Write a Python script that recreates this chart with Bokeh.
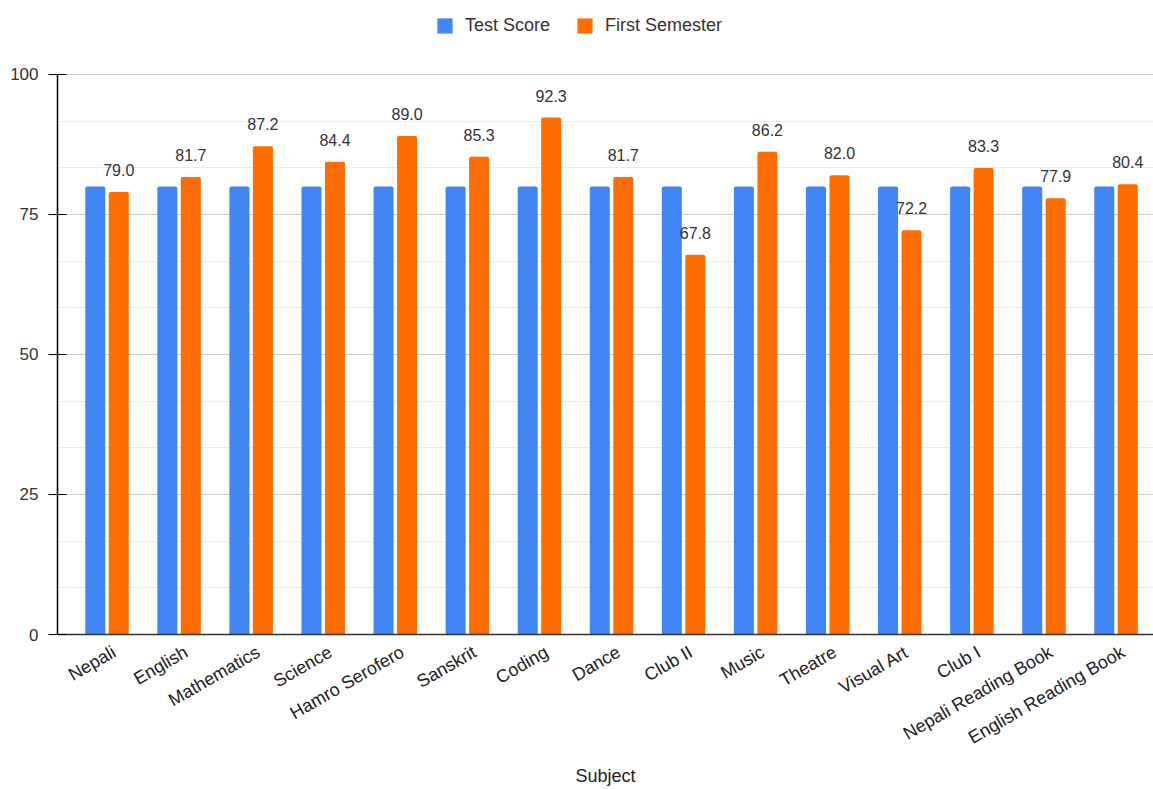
import math
from bokeh.plotting import figure
from bokeh.models import (ColumnDataSource, Range1d, FixedTicker, Legend, LegendItem)
from bokeh.transform import dodge
from bokeh.core.properties import value
from bokeh.embed import file_html
from bokeh.resources import INLINE

categories = ["Nepali", "English", "Mathematics", "Science", "Hamro Serofero",
              "Sanskrit", "Coding", "Dance", "Club II", "Music", "Theatre",
              "Visual Art", "Club I", "Nepali Reading Book", "English Reading Book"]
test_score = [80, 80, 80, 80, 80, 80, 80, 80, 80, 80, 80, 80, 80, 80, 80]
first_semester = [79.0, 81.7, 87.2, 84.4, 89.0, 85.3, 92.3, 81.7, 67.8, 86.2,
                  82.0, 72.2, 83.3, 77.9, 80.4]
y_ticks = [0, 25, 50, 75, 100]
series_names = ["Test Score", "First Semester"]

BLUE = "#4285F4"
ORANGE = "#FF6D01"
FONT = "Liberation Sans"

src = ColumnDataSource(dict(
    x=list(range(len(categories))),
    test=test_score,
    sem=first_semester,
    lab=["%.1f" % v for v in first_semester],
))

p = figure(width=1153, height=789, output_backend="svg", toolbar_location=None,
           x_range=Range1d(-0.687, 14.52), y_range=Range1d(0, 113.21),
           min_border_left=57, min_border_right=0, min_border_top=0,
           min_border_bottom=155)
p.outline_line_color = None
p.background_fill_color = "white"

r1 = p.vbar(x=dodge("x", -0.163, range=p.x_range), top="test", width=0.278,
            source=src, fill_color=BLUE, line_color=None,
            border_radius=(2, 2, 0, 0))
r2 = p.vbar(x=dodge("x", 0.163, range=p.x_range), top="sem", width=0.278,
            source=src, fill_color=ORANGE, line_color=None,
            border_radius=(2, 2, 0, 0))

p.text(x=dodge("x", 0.163, range=p.x_range), y="sem", text="lab", source=src,
       text_align="center", text_baseline="alphabetic", y_offset=-22,
       text_font=value(FONT), text_font_size="16px", text_color="#333333")

# y axis
minor = [i * 25 / 3 for i in range(13) if i % 3]
p.yaxis.ticker = FixedTicker(ticks=y_ticks, minor_ticks=minor)
p.yaxis.bounds = (0, 100)
p.yaxis.axis_line_color = "#000000"
p.yaxis.axis_line_width = 1.5
p.yaxis.major_tick_line_color = "#000000"
p.yaxis.major_tick_out = 9
p.yaxis.major_tick_in = 9
p.yaxis.minor_tick_line_color = None
p.yaxis.major_label_standoff = 10
p.yaxis.major_label_text_font = FONT
p.yaxis.major_label_text_font_size = "17px"
p.yaxis.major_label_text_color = "#333333"

p.ygrid.grid_line_color = "#cccccc"
p.ygrid.minor_grid_line_color = "#ebebeb"
p.xgrid.grid_line_color = None

# x axis: category labels; label anchor nudged right like the reference
LABEL_SHIFT = 0.1
xticks = [i + LABEL_SHIFT for i in range(len(categories))]
p.xaxis.ticker = FixedTicker(ticks=xticks)
p.xaxis.major_label_overrides = {t: c for t, c in zip(xticks, categories)}
p.xaxis.major_label_orientation = math.pi / 6
p.xaxis.axis_line_color = "#333333"
p.xaxis.axis_line_width = 1.5
p.xaxis.major_tick_line_color = None
p.xaxis.minor_tick_line_color = None
p.xaxis.major_tick_out = 0
p.xaxis.major_tick_in = 0
p.xaxis.major_label_standoff = 16
p.xaxis.major_label_text_font = FONT
p.xaxis.major_label_text_font_size = "18px"
p.xaxis.major_label_text_color = "#222222"
p.xaxis.axis_label = "Subject"
p.xaxis.axis_label_text_font = FONT
p.xaxis.axis_label_text_font_size = "18px"
p.xaxis.axis_label_text_font_style = "normal"
p.xaxis.axis_label_text_color = "#222222"
p.xaxis.axis_label_standoff = 7

legend = Legend(items=[LegendItem(label=series_names[0], renderers=[r1]),
                       LegendItem(label=series_names[1], renderers=[r2])],
                orientation="horizontal", location=(378, 598),
                padding=0, margin=0, spacing=25, label_standoff=11,
                glyph_width=19, glyph_height=19, label_height=19,
                label_text_font=FONT, label_text_font_size="18px",
                label_text_color="#333333", border_line_color=None,
                background_fill_alpha=0)
p.add_layout(legend)

open("out.html", "w").write(file_html(p, INLINE))
